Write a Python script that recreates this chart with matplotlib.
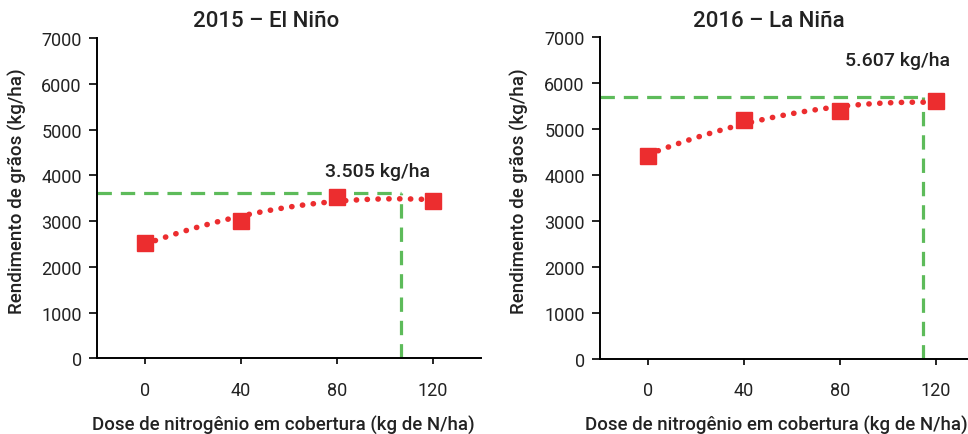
import matplotlib.pyplot as plt
import numpy as np

plt.rcParams['font.family'] = ['Roboto', 'DejaVu Sans']

# data
doses = [0, 40, 80, 120]
yield_2015 = [2530, 3010, 3535, 3435]
yield_2016 = [4415, 5200, 5400, 5610]
opt_dose = [106.7, 114.4]
opt_yield = [3620, 5700]
titles = ['2015 – El Niño', '2016 – La Niña']
labels = ['3.505 kg/ha', '5.607 kg/ha']
label_pos = [(96.7, 4100), (103.8, 6500)]

RED = '#EC2D2F'
GREEN = '#5DBB5A'
INK = '#222222'

fig = plt.figure(figsize=(9.68, 4.35), dpi=100)
axes = [fig.add_axes([0.1002, 0.174, 0.3967, 0.7356]),
        fig.add_axes([0.6198, 0.1724, 0.3967, 0.740])]
title_x = [266 / 968, 769 / 968]
xlabel_x = [283 / 968, 776 / 968]
ylabel_x = [17 / 968, 519 / 968]

for i, (ax, ys) in enumerate(zip(axes, [yield_2015, yield_2016])):
    # quadratic trend fitted to the points
    coef = np.polyfit(doses, ys, 2)
    xs = np.linspace(doses[0], doses[-1], 200)
    ax.plot(xs, np.polyval(coef, xs), color=RED, lw=4.0,
            linestyle=(0, (0.05, 1.9)), dash_capstyle='round', zorder=2)
    ax.plot(doses, ys, 's', color=RED, ms=11, zorder=3)

    ax.plot([-20, opt_dose[i]], [opt_yield[i], opt_yield[i]], color=GREEN,
            lw=2.3, linestyle=(0, (4.5, 2.8)), zorder=1)
    ax.plot([opt_dose[i], opt_dose[i]], [0, opt_yield[i]], color=GREEN,
            lw=2.3, linestyle=(0, (4.5, 2.8)), zorder=1)

    ax.text(label_pos[i][0], label_pos[i][1], labels[i], ha='center',
            va='center', fontsize=14, fontweight='medium', color=INK)

    ax.set_xlim(-20, 140)
    ax.set_ylim(0, 7000)
    ax.set_xticks(doses)
    ax.set_yticks(range(0, 7001, 1000))
    for s in ['top', 'right']:
        ax.spines[s].set_visible(False)
    for s in ['left', 'bottom']:
        ax.spines[s].set_linewidth(1.4)
    ax.tick_params(axis='y', length=6, width=1.2, labelsize=13, pad=5,
                   labelcolor=INK)
    ax.tick_params(axis='x', length=4, width=1.2, labelsize=13, pad=12,
                   labelcolor=INK)

    fig.text(ylabel_x[i], 0.56, 'Rendimento de grãos (kg/ha)', rotation=90,
             ha='center', va='center', fontsize=13.5, fontweight='medium',
             color=INK)
    fig.text(xlabel_x[i], 0.0, 'Dose de nitrogênio em cobertura (kg de N/ha)',
             ha='center', va='bottom', fontsize=13.4, fontweight='medium',
             color=INK)
    fig.text(title_x[i], 0.95, titles[i], ha='center', va='center',
             fontsize=16, fontweight='medium', color=INK)

fig.savefig('out.png', dpi=100)
